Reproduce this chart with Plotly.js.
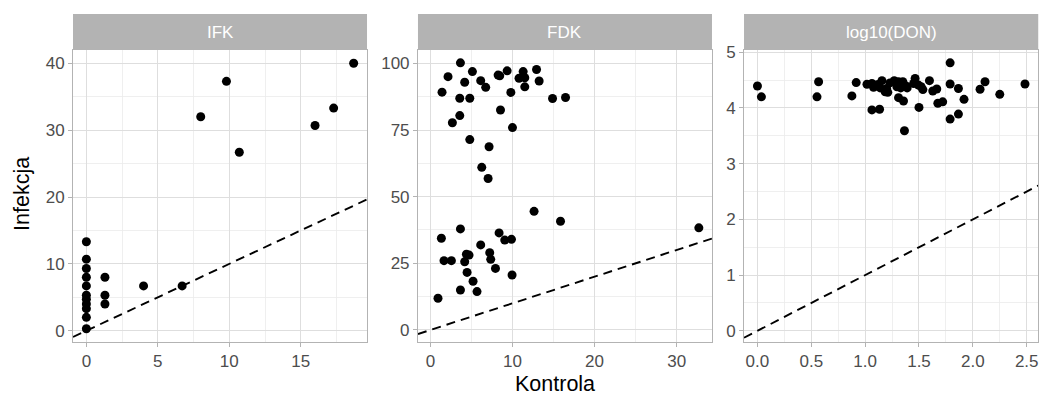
<!DOCTYPE html>
<html>
<head>
<meta charset="utf-8">
<script src="https://cdn.plot.ly/plotly-3.0.1.min.js"></script>
<style>html,body{margin:0;padding:0;background:#fff;}</style>
</head>
<body>
<div id="chart" style="width:1040px;height:396px;"></div>
<script>
// ---- data ----
const panelNames = ["IFK", "FDK", "log10(DON)"];

const ifkX = [0,0,0,0,0,0,0,0,0,0,0, 1.3,1.3,1.3, 4.0, 6.7, 8.0, 9.8, 10.7, 16.0, 17.3, 18.7];
const ifkY = [13.3,10.7,9.3,8.0,6.7,5.3,4.7,4.0,3.3,2.0,0.3, 8.0,5.3,4.0, 6.7, 6.7, 32.0, 37.3, 26.7, 30.7, 33.3, 40.0];

const fdkX = [3.66,2.15,1.42,3.58,4.8,5.12,4.18,6.13,6.74,3.58,2.68,8.25,8.45,9.35,9.8,8.54,10.0,10.8,11.3,11.5,11.5,12.93,13.25,14.88,16.46,4.8,7.15,6.26,7.03,
              0.93,1.34,1.66,2.56,3.66,3.66,4.18,4.39,4.71,4.47,5.2,5.68,6.13,7.23,7.35,7.93,8.37,9.06,9.88,9.95,12.63,15.85,32.7];
const fdkY = [100.2,95.0,89.2,86.9,86.9,96.9,92.9,93.5,91.0,80.4,77.7,95.6,95.3,97.2,89.1,82.5,75.9,94.4,96.9,94.6,91.2,97.7,93.4,86.8,87.2,71.4,68.7,61.0,56.8,
              11.9,34.4,26.0,26.0,37.9,15.0,25.6,28.4,28.1,21.6,18.3,14.4,31.9,29.0,26.5,23.1,36.4,33.7,34.0,20.6,44.5,40.8,38.3];

const donX = [0,0.037,0.568,0.553,0.877,0.917,1.017,1.063,1.078,1.156,1.186,1.063,1.134,1.27,1.295,1.35,1.38,1.31,1.356,1.365,1.464,1.495,1.536,1.50,1.597,1.628,1.665,1.675,1.72,1.789,1.789,1.789,1.866,1.866,1.918,2.067,2.113,2.25,2.484,
              1.12,1.20,1.23,1.31,1.33,1.45,1.52,1.14,1.39,1.21];
const donY = [4.395,4.20,4.47,4.20,4.216,4.455,4.425,4.44,4.37,4.49,4.29,3.965,3.977,4.49,4.38,4.47,4.395,4.185,4.126,3.59,4.53,4.41,4.33,4.01,4.49,4.305,4.34,4.085,4.11,4.81,4.43,3.80,3.89,4.35,4.155,4.335,4.47,4.245,4.43,
              4.42,4.35,4.45,4.47,4.36,4.44,4.38,4.36,4.36,4.28];

const xTitle = "Kontrola";
const yTitle = "Infekcja";

// ---- axis settings ----
const xRanges = [[-0.935, 19.635], [-1.51, 34.3], [-0.1245, 2.607]];
const yRanges = [[-1.685, 41.985], [-4.5, 105.0], [-0.2, 5.04]];
const xDticks = [5, 10, 0.5];
const yDticks = [10, 25, 1];
const xDomains = [[0.0702, 0.3529], [0.4019, 0.6846], [0.7154, 0.9983]];
const yDomain = [0.1364, 0.8737];
const stripTop = 0.9646;

const datasets = [[ifkX, ifkY], [fdkX, fdkY], [donX, donY]];

const traces = [];
const layout = {
  width: 1040, height: 396,
  margin: {l: 0, r: 0, t: 0, b: 0},
  paper_bgcolor: "#ffffff",
  plot_bgcolor: "#ffffff",
  showlegend: false,
  font: {family: "Liberation Sans, Arial, sans-serif", color: "#4D4D4D"},
  shapes: [],
  annotations: []
};

function axisStyle(dtick, range, domain, anchor, fmt) {
  const a = {
    domain: domain, anchor: anchor, range: range,
    tickmode: "linear", tick0: 0, dtick: dtick,
    showline: true, mirror: true, linecolor: "#B3B3B3", linewidth: 1,
    showgrid: true, gridcolor: "#DEDEDE", gridwidth: 1,
    zeroline: false,
    ticks: "outside", ticklen: 4, tickcolor: "#B3B3B3", tickwidth: 1,
    tickfont: {size: 17, color: "#4D4D4D", family: "Liberation Sans, Arial, sans-serif"},
    minor: {tickmode: "linear", tick0: dtick / 2, dtick: dtick, showgrid: true, gridcolor: "#EBEBEB", gridwidth: 0.8, ticks: ""},
    fixedrange: true
  };
  if (fmt) a.tickformat = fmt;
  return a;
}

for (let i = 0; i < 3; i++) {
  const sfx = i === 0 ? "" : String(i + 1);
  const xa = "x" + sfx, ya = "y" + sfx;
  traces.push({
    type: "scatter", mode: "markers",
    x: datasets[i][0], y: datasets[i][1],
    xaxis: xa, yaxis: ya,
    marker: {color: "#000000", size: 9, line: {width: 0}},
    hoverinfo: "skip"
  });
  // dashed identity line (slope 1, intercept 0) across x range
  const xr = xRanges[i];
  traces.push({
    type: "scatter", mode: "lines",
    x: [xr[0], xr[1]], y: [xr[0], xr[1]],
    xaxis: xa, yaxis: ya,
    line: {color: "#000000", width: 1.9, dash: "9px,6px"},
    hoverinfo: "skip"
  });
  layout["xaxis" + sfx] = axisStyle(xDticks[i], xRanges[i], xDomains[i], ya, i === 2 ? ".1f" : null);
  layout["yaxis" + sfx] = axisStyle(yDticks[i], yRanges[i], yDomain, xa, null);

  // strip
  layout.shapes.push({
    type: "rect", xref: "paper", yref: "paper",
    x0: xDomains[i][0], x1: xDomains[i][1], y0: yDomain[1], y1: stripTop,
    fillcolor: "#B3B3B3", line: {width: 0}, layer: "below"
  });
  layout.annotations.push({
    xref: "paper", yref: "paper",
    x: (xDomains[i][0] + xDomains[i][1]) / 2, y: (yDomain[1] + stripTop) / 2,
    text: panelNames[i], showarrow: false,
    xanchor: "center", yanchor: "middle",
    font: {size: 17, color: "#ffffff", family: "Liberation Sans, Arial, sans-serif"}
  });
}

layout.annotations.push({
  xref: "paper", yref: "paper", x: 0.534, y: 0.03,
  text: xTitle, showarrow: false, xanchor: "center", yanchor: "middle",
  font: {size: 21.5, color: "#000000", family: "Liberation Sans, Arial, sans-serif"}
});
layout.annotations.push({
  xref: "paper", yref: "paper", x: 0.021, y: 0.51,
  text: yTitle, showarrow: false, xanchor: "center", yanchor: "middle", textangle: -90,
  font: {size: 21.5, color: "#000000", family: "Liberation Sans, Arial, sans-serif"}
});

Plotly.newPlot("chart", traces, layout, {staticPlot: true, displayModeBar: false});
</script>
</body>
</html>
